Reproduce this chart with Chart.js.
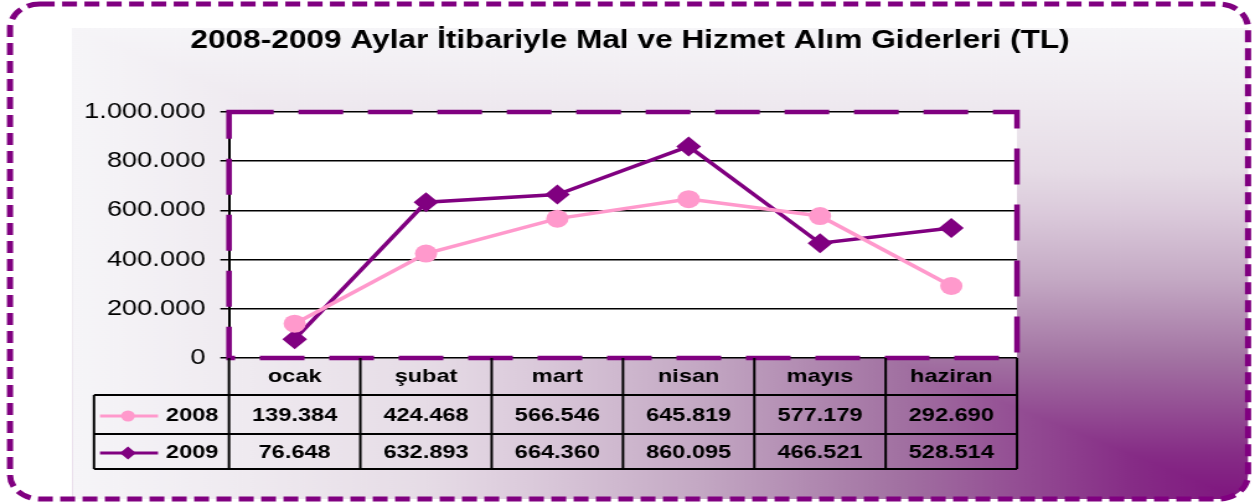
<!DOCTYPE html>
<html>
<head>
<meta charset="utf-8">
<script src="https://cdn.jsdelivr.net/npm/chart.js@4"></script>
<style>
html, body { margin: 0; padding: 0; background: #fff; overflow: hidden; }
canvas { display: block; }
</style>
</head>
<body>
<!-- the reference is stretched horizontally, so the chart is drawn narrower and scaled up by css -->
<canvas id="chart" width="1012" height="504" style="width:1255px;height:504px"></canvas>
<script>
var months = ['ocak', 'şubat', 'mart', 'nisan', 'mayıs', 'haziran'];
var seriesNames = ['2008', '2009'];
var values2008 = [139384, 424468, 566546, 645819, 577179, 292690];
var values2009 = [76648, 632893, 664360, 860095, 466521, 528514];
var yTicks = [0, 200000, 400000, 600000, 800000, 1000000];
var chartTitle = '2008-2009 Aylar İtibariyle Mal ve Hizmet Alım Giderleri (TL)';

var pink = '#FF99CC';
var purple = '#800080';
var FONT = '"Liberation Sans", Arial, sans-serif';
var SX = 1012 / 1255; // reference px -> canvas px horizontally

function fmt(v) {
    return String(v).replace(/\B(?=(\d{3})+(?!\d))/g, '.');
}

var gradStops = [
    [0, '#7E137E'], [0.1, '#862C86'], [0.3, '#A272A2'], [0.47, '#C4A9C4'],
    [0.61, '#DBCADB'], [0.7, '#E6DCE6'], [0.85, '#EFEAF0'], [1, '#F6F5F8']
];

function addStops(g) {
    gradStops.forEach(function (s) { g.addColorStop(s[0], s[1]); });
    return g;
}

var decor = {
    id: 'decor',
    beforeDraw: function (chart) {
        var ctx = chart.ctx, a = chart.chartArea;
        ctx.save();
        ctx.fillStyle = '#fff';
        ctx.fillRect(0, 0, chart.width, chart.height);

        // rounded outer frame with corner gradient
        var fx = 10 * SX, fy = 4, fw = 1238 * SX, fh = 495;
        ctx.save();
        ctx.beginPath();
        ctx.roundRect(fx, fy, fw, fh, 24);
        ctx.clip();
        var gx0 = 72 * SX, gy0 = 28, gx1 = 1250 * SX, gy1 = 502;
        ctx.fillStyle = addStops(ctx.createLinearGradient(0, gy1, 0, gy0));
        ctx.fillRect(gx0, gy0, gx1 - gx0, gy1 - gy0);
        ctx.beginPath();
        ctx.moveTo(gx0, gy0);
        ctx.lineTo(gx0, gy1);
        ctx.lineTo(gx1, gy1);
        ctx.closePath();
        ctx.clip();
        ctx.fillStyle = addStops(ctx.createLinearGradient(gx1, 0, gx0, 0));
        ctx.fillRect(gx0, gy0, gx1 - gx0, gy1 - gy0);
        ctx.restore();

        ctx.beginPath();
        ctx.roundRect(fx, fy, fw, fh, 24);
        ctx.setLineDash([12, 6]);
        ctx.lineWidth = 5;
        ctx.strokeStyle = purple;
        ctx.stroke();
        ctx.setLineDash([]);

        // plot area
        ctx.fillStyle = '#fff';
        ctx.fillRect(a.left, a.top, a.right - a.left, a.bottom - a.top);
        ctx.restore();
    },
    beforeDatasetsDraw: function (chart) {
        var ctx = chart.ctx, a = chart.chartArea;
        ctx.save();
        ctx.setLineDash([36, 20]);
        ctx.lineWidth = 4.5;
        ctx.strokeStyle = purple;
        ctx.strokeRect(a.left, a.top, a.right - a.left, a.bottom - a.top);
        ctx.restore();
    },
    afterDraw: function (chart) {
        var ctx = chart.ctx, a = chart.chartArea, x = chart.scales.x;
        var cw = (a.right - a.left) / months.length;
        var b = a.bottom;
        var rows = [b + 37, b + 76, b + 111];
        var legLeft = 94 * SX;
        ctx.save();

        // title
        ctx.fillStyle = '#000';
        ctx.font = 'bold 25.5px ' + FONT;
        ctx.textAlign = 'center';
        ctx.textBaseline = 'alphabetic';
        ctx.fillText(chartTitle, 630 * SX, 48);

        // data table grid
        ctx.strokeStyle = '#000';
        ctx.lineWidth = 2;
        ctx.beginPath();
        rows.forEach(function (y) {
            ctx.moveTo(legLeft, y);
            ctx.lineTo(a.right, y);
        });
        ctx.moveTo(legLeft, rows[0]);
        ctx.lineTo(legLeft, rows[2]);
        for (var k = 0; k <= months.length; k++) {
            ctx.moveTo(a.left + k * cw, b);
            ctx.lineTo(a.left + k * cw, rows[2]);
        }
        ctx.stroke();

        ctx.font = 'bold 19px ' + FONT;
        ctx.textBaseline = 'middle';
        months.forEach(function (m, i) {
            var cx = x.getPixelForValue(i);
            ctx.fillText(m, cx, b + 19);
            ctx.fillText(fmt(values2008[i]), cx, b + 58);
            ctx.fillText(fmt(values2009[i]), cx, b + 95);
        });

        // legend keys
        var ys = [b + 58, b + 95];
        var cols = [pink, purple];
        ys.forEach(function (y, i) {
            ctx.strokeStyle = cols[i];
            ctx.fillStyle = cols[i];
            ctx.lineWidth = 3;
            ctx.beginPath();
            ctx.moveTo(100 * SX, y);
            ctx.lineTo(158 * SX, y);
            ctx.stroke();
            var mx = 128 * SX;
            ctx.beginPath();
            if (i === 0) {
                ctx.arc(mx, y, 5.5, 0, Math.PI * 2);
            } else {
                ctx.moveTo(mx, y - 6.5);
                ctx.lineTo(mx + 6.5, y);
                ctx.lineTo(mx, y + 6.5);
                ctx.lineTo(mx - 6.5, y);
                ctx.closePath();
            }
            ctx.fill();
            ctx.fillStyle = '#000';
            ctx.textAlign = 'left';
            ctx.fillText(seriesNames[i], 166 * SX, y);
        });
        ctx.restore();
    }
};

var ctx = document.getElementById('chart').getContext('2d');
var myChart = new Chart(ctx, {
    type: 'line',
    data: {
        labels: months,
        datasets: [{
            label: seriesNames[0],
            data: values2008,
            borderColor: pink,
            backgroundColor: pink,
            borderWidth: 3.5,
            pointStyle: 'circle',
            pointRadius: 9,
            pointBorderWidth: 0,
            fill: false
        }, {
            label: seriesNames[1],
            data: values2009,
            borderColor: purple,
            backgroundColor: purple,
            borderWidth: 3.5,
            pointStyle: 'rectRot',
            pointRadius: 10,
            pointBorderWidth: 0,
            fill: false
        }]
    },
    options: {
        responsive: false,
        animation: false,
        layout: { padding: { left: 0, right: 1012 - 1017 * SX, top: 112, bottom: 146 } },
        plugins: {
            legend: { display: false },
            tooltip: { enabled: false },
            title: { display: false }
        },
        scales: {
            x: { type: 'category', offset: true, display: false },
            y: {
                min: 0,
                max: 1000000,
                afterBuildTicks: function (s) { s.ticks = yTicks.map(function (v) { return { value: v }; }); },
                afterFit: function (s) { s.width = 229 * SX; },
                ticks: {
                    callback: function (v) { return fmt(v); },
                    color: '#000',
                    padding: 12,
                    font: { family: FONT, size: 22 }
                },
                grid: { color: '#000', lineWidth: 1.5, tickLength: 7 },
                border: { color: '#000', width: 2 }
            }
        }
    },
    plugins: [decor]
});
</script>
</body>
</html>
